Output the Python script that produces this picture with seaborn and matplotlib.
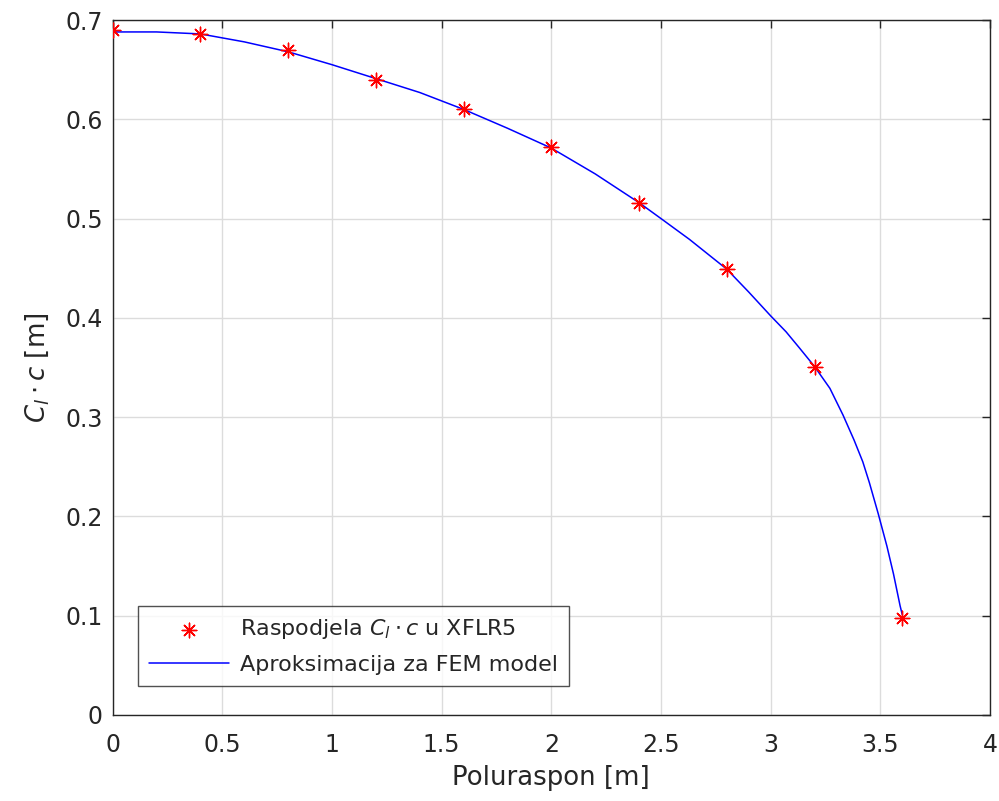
import matplotlib
matplotlib.use('Agg')
import matplotlib.pyplot as plt
import seaborn as sns
import pandas as pd

# XFLR5 points
span_pts = [0.0, 0.4, 0.8, 1.2, 1.6, 2.0, 2.4, 2.8, 3.2, 3.6]
clc_pts = [0.690, 0.686, 0.670, 0.640, 0.610, 0.572, 0.516, 0.449, 0.351, 0.098]

# FEM approximation curve
line_x = [0, 0.2, 0.4, 0.6, 0.8, 1.0, 1.2, 1.4, 1.6, 1.8, 2.0, 2.2, 2.4, 2.5, 2.63,
          2.8, 2.9, 3.0, 3.07, 3.13, 3.2, 3.27, 3.33, 3.38, 3.42, 3.45, 3.49, 3.53,
          3.56, 3.59, 3.6]
line_y = [0.688, 0.688, 0.686, 0.678, 0.668, 0.655, 0.641, 0.627, 0.610, 0.591, 0.571,
          0.545, 0.516, 0.500, 0.479, 0.449, 0.426, 0.402, 0.386, 0.370, 0.351, 0.329,
          0.302, 0.277, 0.255, 0.234, 0.203, 0.170, 0.142, 0.110, 0.101]

x_ticks = [0, 0.5, 1, 1.5, 2, 2.5, 3, 3.5, 4]
x_ticklabels = ['0', '0.5', '1', '1.5', '2', '2.5', '3', '3.5', '4']
y_ticks = [0, 0.1, 0.2, 0.3, 0.4, 0.5, 0.6, 0.7]
y_ticklabels = ['0', '0.1', '0.2', '0.3', '0.4', '0.5', '0.6', '0.7']

sns.set_style('white')
plt.rcParams['font.family'] = ['DejaVu Sans']
plt.rcParams['mathtext.fontset'] = 'dejavusans'

pts = pd.DataFrame({'x': span_pts, 'y': clc_pts})
curve = pd.DataFrame({'x': line_x, 'y': line_y})

fig = plt.figure(figsize=(9.99, 8.01), dpi=100)
ax = fig.add_axes([0.1128, 0.1074, 0.8782, 0.8676])

txt = '#262626'
ax.grid(True, color='#dcdcdc', linewidth=1)
ax.set_axisbelow(True)

sns.lineplot(data=curve, x='x', y='y', sort=False, estimator=None, color='blue',
             linewidth=1.1, ax=ax, label='Aproksimacija za FEM model', zorder=2)
sns.scatterplot(data=pts, x='x', y='y', marker=(8, 2, 0), s=110, color='red',
                edgecolor='red', linewidth=1.0, ax=ax,
                label=r'Raspodjela $C_l \cdot c$ u XFLR5', zorder=3)

ax.set_xlim(0, 4)
ax.set_ylim(0, 0.7)
ax.set_xticks(x_ticks)
ax.set_xticklabels(x_ticklabels)
ax.set_yticks(y_ticks)
ax.set_yticklabels(y_ticklabels)
ax.tick_params(direction='in', length=6, width=1, top=True, right=True,
               labelsize=17, colors=txt)
ax.tick_params(axis='y', pad=7)
ax.tick_params(axis='x', pad=13)
for sp in ax.spines.values():
    sp.set_visible(True)
    sp.set_color(txt)
    sp.set_linewidth(1)

ax.set_xlabel('Poluraspon [m]', fontsize=18.7, color=txt, labelpad=6)
ax.set_ylabel(r'$C_l \cdot c$ [m]', fontsize=18.7, color=txt, labelpad=10)

handles, labels = ax.get_legend_handles_labels()
order = [1, 0]
leg = ax.legend([handles[i] for i in order], [labels[i] for i in order],
                loc='lower left', bbox_to_anchor=(0.029, 0.042), borderaxespad=0,
                fontsize=16, frameon=True, fancybox=False, edgecolor=txt,
                handlelength=3.6, handletextpad=0.5, borderpad=0.5,
                labelspacing=0.6)
leg.get_frame().set_linewidth(1)

fig.savefig('out.png', dpi=100, facecolor='white')
